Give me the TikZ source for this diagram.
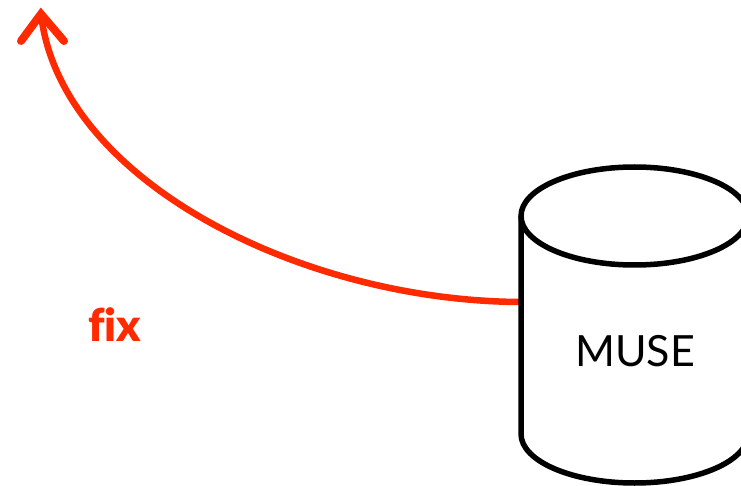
\documentclass[tikz,border=0pt]{standalone}
\usepackage{fontspec}
\setmainfont{Lato}
\newfontfamily\fixfont[Ligatures=NoCommon]{Lato Black}
\definecolor{fixred}{HTML}{FF2A00}
\tikzset{
  cyl/.style={draw=black,line width=5.5pt,line join=round,fill=white},
  redline/.style={draw=fixred,line width=6.5pt},
  redhead/.style={draw=fixred,line width=8pt,line cap=round,line join=miter}
}
\begin{document}
\begin{tikzpicture}[x=1pt,y=-1pt]
\useasboundingbox (0,0) rectangle (741,486);
\clip (0,0) rectangle (741,486);
\coordinate (tip) at (41,14);
\coordinate (armL) at (21,41);
\coordinate (armR) at (64,41);
\coordinate (start) at (521,302);
\draw[redline] (start) .. controls (300,301) and (60,180) .. (tip);
\draw[redhead] (armL) -- (tip) -- (armR);
\draw[cyl] (521,216) -- (521,434) arc[start angle=180,end angle=0,x radius=113.5,y radius=49] -- (748,216);
\draw[cyl,fill=none] (634.5,216) ellipse[x radius=113.5,y radius=49];
\node[font=\fontsize{43}{50}\selectfont,text=black,inner sep=0pt] (muse) at (635,351) {MUSE};
\node[font=\fontsize{45}{50}\selectfont\fixfont,text=fixred,inner sep=0pt] (fix) at (114.5,325) {fix};
\end{tikzpicture}
\end{document}
